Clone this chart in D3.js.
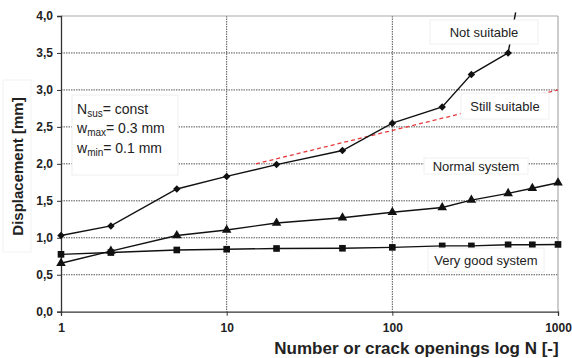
<!DOCTYPE html>
<html>
<head>
<meta charset="utf-8">
<script src="https://cdn.jsdelivr.net/npm/d3@7"></script>
<style>
  body { margin: 0; background: #fff; }
  svg text { font-family: "Liberation Sans", Arial, sans-serif; fill: #222; }
</style>
</head>
<body>
<svg id="chart" width="572" height="358"></svg>
<script>
// data
let cycles = [1, 2, 5, 10, 20, 50, 100, 200, 300, 500, 700, 1000];
let notSuitable = [1.03, 1.16, 1.66, 1.83, 1.99, 2.18, 2.55, 2.77, 3.21, 3.50];
let notSuitableTail = [[500, 3.50], [555, 4.05]];
let normalSystem = [0.655, 0.82, 1.03, 1.105, 1.20, 1.27, 1.345, 1.41, 1.51, 1.60, 1.67, 1.745];
let veryGood = [0.776, 0.80, 0.835, 0.845, 0.855, 0.858, 0.87, 0.89, 0.89, 0.905, 0.905, 0.91];
let limitLine = [[15, 2.0], [1000, 3.0]];
let yTicks = [0, 0.5, 1, 1.5, 2, 2.5, 3, 3.5, 4];
let xTicks = [1, 10, 100, 1000];

let svg = d3.select("#chart");
let mLeft = 61, mRight = 558, mTop = 16, mBottom = 311.7;

let x = d3.scaleLog().domain([1, 1000]).range([mLeft, mRight]);
let y = d3.scaleLinear().domain([0, 4]).range([mBottom, mTop]);

// grid
svg.append("g").selectAll("line").data(yTicks.filter(d => d > 0 && d < 4))
    .join("line")
    .attr("x1", mLeft).attr("x2", mRight)
    .attr("y1", d => y(d)).attr("y2", d => y(d))
    .attr("stroke", "#555").attr("stroke-width", 1).attr("stroke-dasharray", "1.5,1");
svg.append("g").selectAll("line").data([10, 100])
    .join("line")
    .attr("x1", d => x(d)).attr("x2", d => x(d))
    .attr("y1", mTop).attr("y2", mBottom)
    .attr("stroke", "#555").attr("stroke-width", 1).attr("stroke-dasharray", "1.5,1");

// frame top/right
svg.append("line").attr("x1", mLeft).attr("x2", mRight).attr("y1", mTop).attr("y2", mTop)
    .attr("stroke", "#aaa").attr("stroke-width", 1.2);
svg.append("line").attr("x1", mRight).attr("x2", mRight).attr("y1", mTop).attr("y2", mBottom)
    .attr("stroke", "#aaa").attr("stroke-width", 1.2);

// axes
let yAxis = svg.append("g").attr("transform", "translate(" + mLeft + ",0)")
    .call(d3.axisLeft(y).tickValues(yTicks).tickSize(4).tickFormat(d => d3.format(".1f")(d).replace(".", ",")));
let xAxis = svg.append("g").attr("transform", "translate(0," + mBottom + ")")
    .call(d3.axisBottom(x).tickValues(xTicks).tickSize(4).tickFormat(d3.format("d")));
[yAxis, xAxis].forEach(a => {
    a.select(".domain").attr("stroke", "#333").attr("stroke-width", 1.3);
    a.selectAll(".tick line").attr("stroke", "#333");
    a.selectAll("text").style("font-size", "12px").style("font-weight", "bold").attr("fill", "#333");
});
yAxis.selectAll("text").attr("x", -8);
xAxis.selectAll("text").attr("y", 12);

// red dashed limit line
let line = d3.line().x(d => x(d[0])).y(d => y(d[1]));
svg.append("path").attr("d", line(limitLine))
    .attr("fill", "none").attr("stroke", "#e8393c").attr("stroke-width", 1.3).attr("stroke-dasharray", "4,3");

// series lines
let pts = vals => vals.map((v, i) => [cycles[i], v]);
[notSuitable, normalSystem, veryGood].forEach(s => {
    svg.append("path").attr("d", line(pts(s)))
        .attr("fill", "none").attr("stroke", "#111").attr("stroke-width", 1.4);
});
svg.append("path").attr("d", line(notSuitableTail))
    .attr("fill", "none").attr("stroke", "#111").attr("stroke-width", 1.4);

// markers
svg.append("g").selectAll("path").data(pts(notSuitable)).join("path")
    .attr("d", d3.symbol(d3.symbolSquare, 28))
    .attr("transform", d => "translate(" + x(d[0]) + "," + y(d[1]) + ")rotate(45)")
    .attr("fill", "#111");
svg.append("g").selectAll("path").data(pts(normalSystem)).join("path")
    .attr("d", d3.symbol(d3.symbolTriangle, 40))
    .attr("transform", d => "translate(" + x(d[0]) + "," + y(d[1]) + ")")
    .attr("fill", "#111");
svg.append("g").selectAll("path").data(pts(veryGood)).join("path")
    .attr("d", d3.symbol(d3.symbolSquare, 44))
    .attr("transform", d => "translate(" + x(d[0]) + "," + y(d[1]) + ")")
    .attr("fill", "#111");

// labels with white boxes
let labels = [
    { text: "Not suitable", cx: 484, cy: 32, w: 108, h: 24 },
    { text: "Still suitable", cx: 505, cy: 106, w: 88, h: 26 },
    { text: "Normal system", cx: 476, cy: 166, w: 104, h: 16 },
    { text: "Very good system", cx: 486, cy: 260, w: 116, h: 24 }
];
labels.forEach(l => {
    svg.append("rect").attr("x", l.cx - l.w / 2).attr("y", l.cy - l.h / 2)
        .attr("width", l.w).attr("height", l.h)
        .attr("fill", "#fff").attr("stroke", "#f0f0f0");
    svg.append("text").attr("x", l.cx).attr("y", l.cy + 4.5)
        .attr("text-anchor", "middle").style("font-size", "13px").attr("fill", "#333")
        .text(l.text);
});

// parameter box
svg.append("rect").attr("x", 72).attr("y", 95).attr("width", 106).attr("height", 80)
    .attr("fill", "#fff").attr("stroke", "#eee");
let params = [["N", "sus", "= const"], ["w", "max", "= 0.3 mm"], ["w", "min", "= 0.1 mm"]];
params.forEach((p, i) => {
    let t = svg.append("text").attr("x", 77).attr("y", 113.5 + i * 19.8)
        .style("font-size", "14px").attr("fill", "#333");
    t.append("tspan").text(p[0]);
    t.append("tspan").attr("dy", 3).style("font-size", "10px").text(p[1]);
    t.append("tspan").attr("dy", -3).text(p[2]);
});

// axis titles
svg.append("rect").attr("x", 3).attr("y", 80).attr("width", 28).attr("height", 172)
    .attr("fill", "#fff").attr("stroke", "#f2f2f2");
svg.append("text")
    .attr("transform", "translate(22.5,166.5)rotate(-90)")
    .attr("text-anchor", "middle").style("font-size", "15px").style("font-weight", "bold")
    .attr("fill", "#222").text("Displacement [mm]");
svg.append("text").attr("x", 416.5).attr("y", 353.5)
    .attr("text-anchor", "middle").style("font-size", "17px").style("font-weight", "bold")
    .attr("fill", "#222").text("Number or crack openings log N [-]");
</script>
</body>
</html>
